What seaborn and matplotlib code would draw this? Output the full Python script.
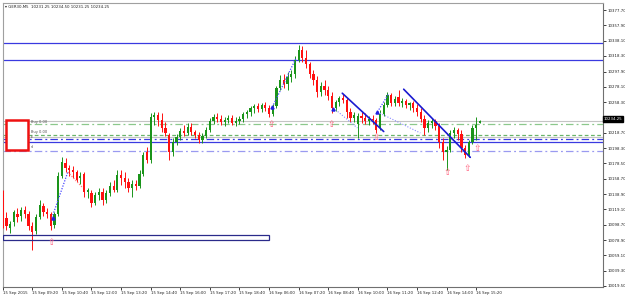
import numpy as np
import pandas as pd
import matplotlib
matplotlib.use("Agg")
import matplotlib.pyplot as plt
import seaborn as sns
from matplotlib.patches import Rectangle

sns.set_theme(style="white")
plt.rcParams['font.family'] = ['DejaVu Sans']

# ---------------- data (GER30, 10-minute sampling of the M5 chart) ----------------
opens = [
    10137.5, 10107.6, 10094.6, 10102.4, 10112.8, 10110.2, 10118.0, 10112.8, 10097.2, 10090.7,
    10108.9, 10123.2, 10115.4, 10112.8, 10098.5, 10112.8, 10162.2, 10179.1, 10172.6, 10170.0,
    10167.4, 10159.6, 10164.8, 10141.4, 10140.1, 10127.1, 10137.5, 10141.4, 10131.0, 10140.1,
    10149.2, 10144.0, 10163.5, 10159.6, 10154.4, 10146.6, 10151.8, 10149.2, 10164.8, 10193.4,
    10183.0, 10238.9, 10241.5, 10235.0, 10224.6, 10215.5, 10193.4, 10206.4, 10212.9, 10220.7,
    10218.1, 10225.9, 10219.4, 10215.5, 10209.0, 10214.2, 10222.0, 10233.7, 10238.9, 10236.3,
    10232.4, 10235.0, 10237.6, 10231.1, 10233.7, 10236.3, 10242.8, 10245.4, 10250.6, 10253.2,
    10249.3, 10254.5, 10250.6, 10242.8, 10253.2, 10276.6, 10287.0, 10281.8, 10290.9, 10294.8,
    10313.0, 10326.0, 10315.6, 10307.8, 10294.8, 10287.0, 10271.4, 10279.2, 10274.0, 10266.2,
    10250.6, 10258.4, 10263.6, 10261.0, 10245.4, 10237.6, 10229.8, 10240.2, 10237.6, 10233.7,
    10236.3, 10235.0, 10224.6, 10242.8, 10254.5, 10267.5, 10257.1, 10264.9, 10257.1, 10259.7,
    10254.5, 10257.1, 10250.6, 10245.4, 10236.3, 10224.6, 10231.1, 10233.7, 10227.2, 10206.4,
    10193.4, 10196.0, 10218.1, 10222.0, 10216.8, 10198.6, 10189.5, 10206.4, 10224.6, 10231.25]

highs = [
    10144.0, 10115.4, 10103.7, 10118.0, 10120.6, 10121.9, 10123.2, 10116.7, 10102.4, 10112.8,
    10131.0, 10127.1, 10120.6, 10115.4, 10115.4, 10167.4, 10186.9, 10185.6, 10176.5, 10175.2,
    10170.0, 10167.4, 10167.4, 10146.6, 10144.0, 10141.4, 10146.6, 10146.6, 10144.0, 10154.4,
    10157.0, 10170.0, 10170.0, 10167.4, 10159.6, 10157.0, 10157.0, 10170.0, 10193.4, 10199.9,
    10244.1, 10245.4, 10245.4, 10244.1, 10232.4, 10218.1, 10211.6, 10216.8, 10224.6, 10228.5,
    10231.1, 10231.1, 10222.0, 10219.4, 10218.1, 10225.9, 10237.6, 10242.8, 10244.1, 10241.5,
    10238.9, 10241.5, 10241.5, 10238.9, 10240.2, 10245.4, 10248.0, 10253.2, 10255.8, 10257.1,
    10257.1, 10258.4, 10254.5, 10255.8, 10279.2, 10293.5, 10294.8, 10297.4, 10300.0, 10318.2,
    10332.5, 10331.2, 10326.0, 10310.4, 10300.0, 10292.2, 10284.4, 10287.0, 10279.2, 10271.4,
    10261.0, 10266.2, 10268.8, 10263.6, 10250.6, 10245.4, 10244.1, 10245.4, 10244.1, 10240.2,
    10241.5, 10237.6, 10248.0, 10258.4, 10271.4, 10270.1, 10266.2, 10274.0, 10263.6, 10262.3,
    10258.4, 10259.7, 10255.8, 10250.6, 10241.5, 10235.0, 10237.6, 10236.3, 10231.1, 10211.6,
    10201.2, 10222.0, 10225.9, 10224.6, 10222.0, 10202.5, 10209.0, 10228.5, 10238.9, 10234.50]

lows = [
    10094.6, 10092.0, 10088.1, 10097.2, 10102.4, 10103.7, 10107.6, 10092.0, 10066.0, 10086.8,
    10106.3, 10110.2, 10107.6, 10092.0, 10094.6, 10110.2, 10159.6, 10167.4, 10162.2, 10159.6,
    10154.4, 10151.8, 10134.9, 10133.6, 10121.9, 10124.5, 10131.0, 10124.5, 10127.1, 10136.2,
    10141.4, 10141.4, 10150.5, 10146.6, 10141.4, 10134.9, 10144.0, 10146.6, 10162.2, 10179.1,
    10179.1, 10228.5, 10227.2, 10219.4, 10214.2, 10183.0, 10188.2, 10202.5, 10209.0, 10214.2,
    10215.5, 10215.5, 10211.6, 10205.1, 10205.1, 10211.6, 10219.4, 10229.8, 10232.4, 10228.5,
    10227.2, 10231.1, 10228.5, 10227.2, 10229.8, 10232.4, 10237.6, 10240.2, 10244.1, 10245.4,
    10245.4, 10246.7, 10238.9, 10240.2, 10250.6, 10274.0, 10276.6, 10274.0, 10284.4, 10289.6,
    10310.4, 10310.4, 10302.6, 10289.6, 10280.5, 10264.9, 10266.2, 10267.5, 10261.0, 10244.1,
    10246.7, 10253.2, 10257.1, 10237.6, 10232.4, 10232.4, 10211.6, 10231.1, 10229.8, 10228.5,
    10229.8, 10218.1, 10222.0, 10240.2, 10251.9, 10253.2, 10253.2, 10253.2, 10251.9, 10250.6,
    10248.0, 10245.4, 10240.2, 10232.4, 10215.5, 10219.4, 10224.6, 10222.0, 10198.6, 10183.0,
    10170.0, 10193.4, 10211.6, 10209.0, 10193.4, 10185.6, 10186.9, 10203.8, 10209.0, 10231.25]

closes = [
    10102.4, 10097.2, 10099.8, 10115.4, 10108.9, 10118.0, 10112.8, 10097.2, 10089.4, 10108.9,
    10124.5, 10115.4, 10112.8, 10097.2, 10112.8, 10162.2, 10180.4, 10172.6, 10170.0, 10167.4,
    10157.0, 10162.2, 10141.4, 10144.0, 10127.1, 10137.5, 10141.4, 10131.0, 10140.1, 10149.2,
    10144.0, 10163.5, 10159.6, 10154.4, 10146.6, 10151.8, 10149.2, 10164.8, 10189.5, 10183.0,
    10238.9, 10241.5, 10235.0, 10224.6, 10218.1, 10193.4, 10206.4, 10212.9, 10220.7, 10218.1,
    10225.9, 10219.4, 10215.5, 10209.0, 10214.2, 10222.0, 10233.7, 10238.9, 10236.3, 10232.4,
    10235.0, 10237.6, 10231.1, 10233.7, 10236.3, 10242.8, 10245.4, 10250.6, 10253.2, 10249.3,
    10254.5, 10250.6, 10242.8, 10253.2, 10276.6, 10287.0, 10281.8, 10290.9, 10294.8, 10313.0,
    10326.0, 10315.6, 10307.8, 10294.8, 10287.0, 10271.4, 10279.2, 10274.0, 10266.2, 10250.6,
    10258.4, 10263.6, 10261.0, 10245.4, 10237.6, 10241.5, 10240.2, 10237.6, 10233.7, 10236.3,
    10235.0, 10222.0, 10242.8, 10254.5, 10267.5, 10257.1, 10262.3, 10257.1, 10259.7, 10254.5,
    10257.1, 10250.6, 10245.4, 10236.3, 10224.6, 10231.1, 10233.7, 10227.2, 10206.4, 10193.4,
    10196.0, 10218.1, 10222.0, 10216.8, 10198.6, 10189.5, 10206.4, 10224.6, 10228.5, 10234.25]

time_label_bars = [0, 8, 16, 24, 32, 40, 48, 56, 64, 72, 80, 88, 96, 104, 112, 120, 128]
time_labels = ["15 Sep 2015", "15 Sep 09:20", "15 Sep 10:40", "15 Sep 12:00", "15 Sep 13:20",
               "15 Sep 14:40", "15 Sep 16:00", "15 Sep 17:20", "15 Sep 18:40", "16 Sep 06:00",
               "16 Sep 07:20", "16 Sep 08:40", "16 Sep 10:00", "16 Sep 11:20", "16 Sep 12:40",
               "16 Sep 14:00", "16 Sep 15:20"]

price_ticks = [10377.70, 10357.90, 10338.10, 10318.30, 10297.90, 10278.10, 10258.30, 10238.50,
               10218.70, 10198.30, 10178.50, 10158.70, 10138.90, 10119.10, 10098.70, 10078.90,
               10059.10, 10039.30, 10019.50]
price_labels = ["10377.70", "10357.90", "10338.10", "10318.30", "10297.90", "10278.10", "10258.30",
                "", "10218.70", "10198.30", "10178.50", "10158.70", "10138.90", "10119.10",
                "10098.70", "10078.90", "10059.10", "10039.30", "10019.50"]

bid_price = 10234.25
title_text = "GER30,M5  10231.25 10234.50 10231.25 10234.25"

# horizontal levels
level_blue_solid = [10335.1, 10313.0, 10206.4]
level_blue_dashdot = 10210.7
level_lightblue_dashdot = 10195.1
level_green_dashdot = 10229.4
level_green_dashed = 10215.5
level_grey = [10234.25, 10213.5]

# trend lines (bar, price)
trend1_x, trend1_y = [91.8, 103.0], [10269.7, 10220.0]
trend2_x, trend2_y = [108.4, 126.4], [10274.9, 10186.5]

# zigzag dotted segments
zz_blue = [([13.3, 17.6], [10108.0, 10167.4]), ([72.9, 79.2], [10251.9, 10314.3]),
           ([101.3, 104.3], [10245.4, 10268.8])]
zz_pink = [([17.6, 21.7], [10167.4, 10146.6])]
zz_light = [([89.4, 95.9], [10250.6, 10224.6]), ([101.3, 112.9], [10245.4, 10218.1])]
zz_marks_x = [13.5, 72.9, 89.4, 101.3]
zz_marks_y = [10108.0, 10251.9, 10249.5, 10245.4]

# fractal arrows
arrow_x = [13.0, 72.7, 88.9, 101.0, 120.2, 125.6, 128.3]
arrow_y = [10076.4, 10228.5, 10228.5, 10211.6, 10167.4, 10172.6, 10198.6]

# ---------------- figure ----------------
W, H = 625, 297
fig = plt.figure(figsize=(W / 100, H / 100), dpi=100)
fig.patch.set_facecolor("white")
ax = fig.add_axes([2.7 / W, (H - 287) / H, 600 / W, (287 - 2.7) / H])
ax.set_facecolor("white")

df = pd.DataFrame({"o": opens, "h": highs, "l": lows, "c": closes})
df["x"] = np.arange(len(df))
green, red = "#1a941a", "#ff1010"
cols = np.where(df["c"] >= df["o"], green, red)

ax.vlines(df["x"], df["l"], df["h"], colors=cols, lw=0.7, zorder=3)
body = np.maximum((df["c"] - df["o"]).abs(), 0.8)
ax.bar(df["x"], body, bottom=np.minimum(df["o"], df["c"]), width=0.6,
       color=cols, edgecolor=cols, linewidth=0, zorder=3)

# horizontal lines
for lv in level_blue_solid:
    ax.axhline(lv, color="#3a3ae0", lw=0.9, zorder=2)
ax.axhline(level_blue_dashdot, color="#3a3ae0", lw=0.9, ls=(0, (6, 2.5, 1.5, 2.5)), zorder=2)
ax.axhline(level_lightblue_dashdot, color="#9a9af0", lw=0.9, ls=(0, (6, 2.5, 1.5, 2.5)), zorder=2)
ax.axhline(level_green_dashdot, color="#8cc88c", lw=0.9, ls=(0, (6, 2.5, 1.5, 2.5)), zorder=2)
ax.axhline(level_green_dashed, color="#6ab46a", lw=0.9, ls=(0, (3, 2)), zorder=2)
for lv in level_grey:
    ax.axhline(lv, color="#c4c4c4", lw=0.8, zorder=1.9)

# trend lines
sns.lineplot(x=trend1_x, y=trend1_y, ax=ax, color="#1a1ad0", lw=1.2, zorder=4)
sns.lineplot(x=trend2_x, y=trend2_y, ax=ax, color="#1a1ad0", lw=1.2, zorder=4)

for xs, ys in zz_blue:
    ax.plot(xs, ys, color="#4848ff", lw=0.9, ls=(0, (1, 1.2)), zorder=4)
for xs, ys in zz_pink:
    ax.plot(xs, ys, color="#ff8080", lw=0.9, ls=(0, (1, 1.2)), zorder=4)
for xs, ys in zz_light:
    ax.plot(xs, ys, color="#8a8aff", lw=0.8, ls=(0, (1, 1.5)), zorder=4)
ax.plot(zz_marks_x, zz_marks_y, ls="none", marker="^", ms=2.2, color="#2020e0", zorder=5)

for ax_, ay_ in zip(arrow_x, arrow_y):
    ax.text(ax_, ay_, "\u21e7", color="#ff5a78", fontsize=6.5, ha="center", va="center", zorder=6)

# bottom rectangle
ax.add_patch(Rectangle((0.08, 10079.7), 71.8, 5.8, fill=False, edgecolor="#2a2a8a", lw=0.9, zorder=4))

# trade panel box
ax.add_patch(Rectangle((0.89, 10196.0), 5.94, 39.0, facecolor="white", edgecolor="#ee1111",
                       lw=1.8, zorder=6))
for ty, tt in [(10232.4, "Buy 0.00"), (10219.4, "Buy 0.00"), (10213.0, "tl"), (10199.9, "sl")]:
    ax.text(7.6, ty, tt, fontsize=2.6, color="#505050", va="center", ha="left", zorder=7)

# axes, ticks
ax.set_xlim(0.27, 162.2)
ax.set_ylim(10018.2, 10387.2)
ax.yaxis.tick_right()
ax.set_yticks(price_ticks)
ax.set_yticklabels(price_labels)
ax.set_xticks(time_label_bars)
ax.set_xticklabels(time_labels, ha="left")
ax.tick_params(axis="both", which="both", direction="out", length=2, width=0.6,
               colors="#202020", labelsize=2.8, pad=1)
ax.tick_params(axis="y", right=True, left=False, pad=1.2)
ax.tick_params(axis="x", bottom=True, pad=0.6)
ax.set_xlabel("")
ax.set_ylabel("")
for side in ["left", "top"]:
    ax.spines[side].set_color("#a0a0a0")
    ax.spines[side].set_linewidth(0.8)
for side in ["right", "bottom"]:
    ax.spines[side].set_color("#707070")
    ax.spines[side].set_linewidth(0.8)
ax.grid(False)

# current price box
ax.text(1.002, bid_price + 2.3, "10234.25", transform=ax.get_yaxis_transform(),
        fontsize=2.8, color="white", va="center", ha="left", zorder=8,
        bbox=dict(boxstyle="square,pad=0.25", facecolor="black", edgecolor="black"), clip_on=False)

ax.text(0.004, 0.992, "\u25be " + title_text, transform=ax.transAxes, fontsize=2.8,
        color="#202020", va="top", ha="left", zorder=8)

fig.savefig("out.png", dpi=100, facecolor="white")
